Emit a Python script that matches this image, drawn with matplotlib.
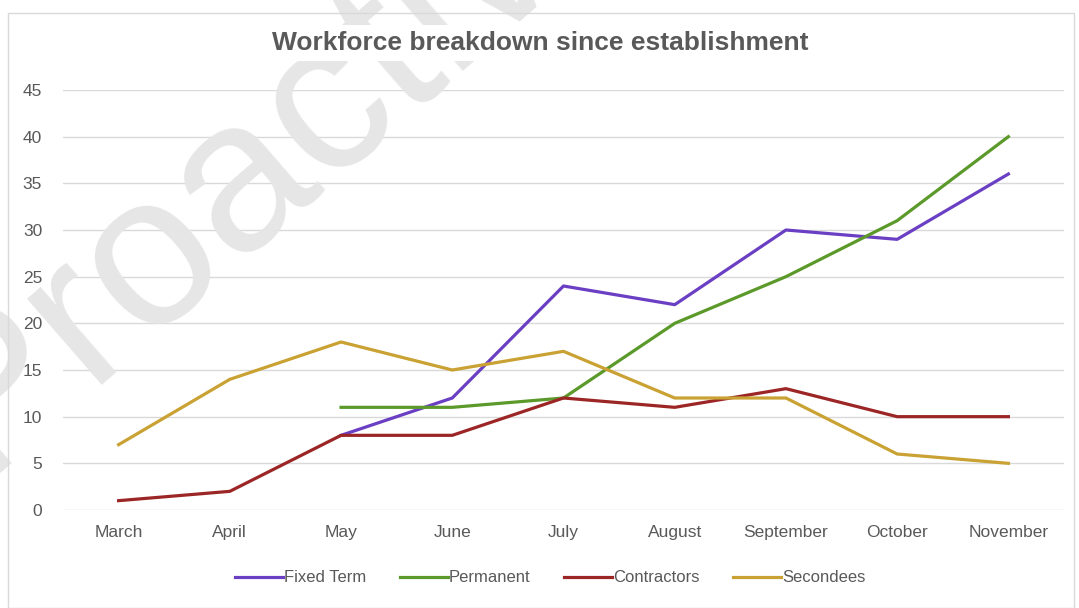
import numpy as np
import matplotlib.pyplot as plt
from matplotlib.patches import Rectangle

months = ['March', 'April', 'May', 'June', 'July', 'August',
          'September', 'October', 'November']
fixed_term = [np.nan, np.nan, 8, 12, 24, 22, 30, 29, 36]
permanent = [np.nan, np.nan, 11, 11, 12, 20, 25, 31, 40]
contractors = [1, 2, 8, 8, 12, 11, 13, 10, 10]
secondees = [7, 14, 18, 15, 17, 12, 12, 6, 5]
y_ticks = list(range(0, 50, 5))

series = [
    ('Fixed Term', fixed_term, '#6a3fc4'),
    ('Permanent', permanent, '#5b9a2a'),
    ('Contractors', contractors, '#9c2626'),
    ('Secondees', secondees, '#c9a233'),
]

text_col = '#595959'
plt.rcParams['font.family'] = ['Liberation Sans', 'DejaVu Sans']

W, H = 1079, 608
fig = plt.figure(figsize=(W / 100, H / 100), dpi=100)
ax = fig.add_axes([63 / W, 1 - 510 / H, (1064 - 63) / W, (510 - 90) / H])

x = np.arange(len(months))
for name, vals, col in series:
    ax.plot(x, vals, color=col, lw=2.3, label=name, zorder=3)

ax.set_xlim(-0.5, len(months) - 0.5)
ax.set_ylim(0, 45)
ax.set_yticks(y_ticks)
ax.set_xticks(x)
ax.set_xticklabels(months)
ax.grid(axis='y', color='#d9d9d9', lw=1)
ax.set_axisbelow(True)
for s in ax.spines.values():
    s.set_visible(False)
ax.tick_params(length=0, labelsize=12.5, colors=text_col)
ax.tick_params(axis='y', pad=15)
ax.tick_params(axis='x', pad=11)

# faint watermark behind the lines
ax.text(-21 / W, 1 - 476 / H, 'Proactive', transform=fig.transFigure,
        rotation=41, rotation_mode='anchor', ha='left', va='baseline',
        fontsize=155, color='#e6e6e6', clip_on=False, zorder=1.5)

fig.text(540 / W, 1 - 43 / H, 'Workforce breakdown since establishment',
         ha='center', va='center', fontsize=19, fontweight='bold',
         color=text_col, zorder=5,
         bbox=dict(facecolor='white', edgecolor='none', pad=4))

fig.patches.append(Rectangle((8 / W, 0), (1074 - 8) / W, 1 - 13 / H,
                             transform=fig.transFigure, fill=False,
                             edgecolor='#d9d9d9', lw=1))

leg = fig.legend(loc='center', bbox_to_anchor=(550 / W, 1 - 578 / H), ncol=4,
                 frameon=False, fontsize=12, handlelength=2.9,
                 handletextpad=0.05, columnspacing=2.0)
for t in leg.get_texts():
    t.set_color(text_col)

fig.savefig('out.png', dpi=100)
